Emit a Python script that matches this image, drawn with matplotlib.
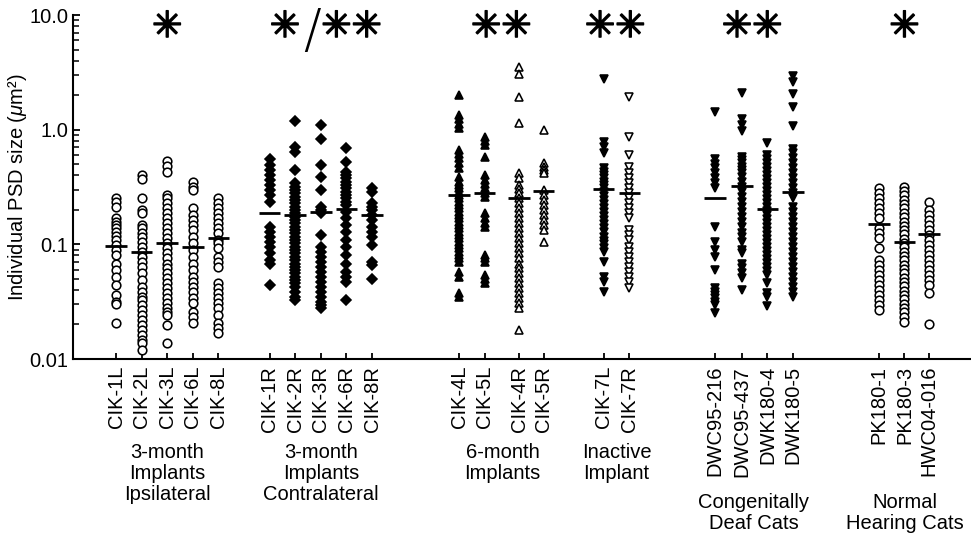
import matplotlib
matplotlib.use("Agg")
import matplotlib.pyplot as plt
import matplotlib.patheffects as pe
from matplotlib.ticker import LogLocator, FixedLocator, FixedFormatter, NullFormatter

plt.rcParams['font.family'] = ['Liberation Sans', 'DejaVu Sans']
plt.rcParams['mathtext.fontset'] = 'custom'
plt.rcParams['mathtext.rm'] = 'Liberation Sans'
plt.rcParams['mathtext.it'] = 'Liberation Sans:italic'

# ---------------- data (PSD sizes, um^2) ----------------
tick_labels = ["CIK-1L", "CIK-2L", "CIK-3L", "CIK-6L", "CIK-8L",
               "CIK-1R", "CIK-2R", "CIK-3R", "CIK-6R", "CIK-8R",
               "CIK-4L", "CIK-5L", "CIK-4R", "CIK-5R",
               "CIK-7L", "CIK-7R",
               "DWC95-216", "DWC95-437", "DWK180-4", "DWK180-5",
               "PK180-1", "PK180-3", "HWC04-016"]

cik_1l = [0.256, 0.236, 0.210, 0.168, 0.157, 0.147, 0.138, 0.129, 0.118, 0.109, 0.0986,
          0.089, 0.081, 0.068, 0.060, 0.052, 0.044, 0.036, 0.0316, 0.030, 0.0205]
cik_2l = [0.402, 0.368, 0.252, 0.199, 0.186, 0.147, 0.138, 0.125, 0.117, 0.105, 0.0953,
          0.0863, 0.078, 0.0706, 0.0638, 0.0558, 0.0489, 0.0428, 0.0387, 0.0349, 0.0327,
          0.0296, 0.0267, 0.0242, 0.0219, 0.0198, 0.0179, 0.0162, 0.0147, 0.0137, 0.0121]
cik_3l = [0.536, 0.482, 0.430, 0.269, 0.252, 0.228, 0.206, 0.186, 0.168, 0.152, 0.138,
          0.125, 0.113, 0.102, 0.0923, 0.0834, 0.0755, 0.068, 0.0617, 0.0558, 0.0504,
          0.0457, 0.0413, 0.0374, 0.0338, 0.0306, 0.0277, 0.0259, 0.0242, 0.0198, 0.0139]
cik_6l = [0.352, 0.318, 0.297, 0.206, 0.180, 0.163, 0.147, 0.133, 0.117, 0.102, 0.089,
          0.078, 0.068, 0.060, 0.052, 0.0472, 0.0428, 0.0387, 0.0338, 0.0306, 0.0259,
          0.0234, 0.0205]
cik_8l = [0.252, 0.228, 0.206, 0.186, 0.168, 0.152, 0.138, 0.125, 0.109, 0.102, 0.0923,
          0.078, 0.0706, 0.0638, 0.0457, 0.0413, 0.0374, 0.0338, 0.0306, 0.0277, 0.0242,
          0.0205, 0.0185, 0.0170]

cik_1r = [0.551, 0.491, 0.445, 0.402, 0.364, 0.329, 0.297, 0.269, 0.236, 0.143, 0.129,
          0.117, 0.105, 0.0953, 0.0834, 0.0730, 0.068, 0.0442]
cik_2r = [1.19, 0.709, 0.642, 0.445, 0.341, 0.318, 0.297, 0.278, 0.260, 0.243, 0.228,
          0.213, 0.199, 0.186, 0.174, 0.163, 0.152, 0.143, 0.133, 0.125, 0.117, 0.109,
          0.102, 0.0953, 0.089, 0.0834, 0.078, 0.073, 0.068, 0.0638, 0.060, 0.0558,
          0.052, 0.0489, 0.0457, 0.0428, 0.0387, 0.0349, 0.0327]
cik_3r = [1.097, 0.822, 0.491, 0.384, 0.297, 0.213, 0.199, 0.186, 0.121, 0.0953, 0.0863,
          0.078, 0.0706, 0.0638, 0.0577, 0.052, 0.0472, 0.0428, 0.0387, 0.0349, 0.0316,
          0.0296, 0.0277]
cik_6r = [0.687, 0.525, 0.430, 0.402, 0.376, 0.352, 0.329, 0.308, 0.288, 0.269, 0.252,
          0.236, 0.220, 0.193, 0.168, 0.147, 0.129, 0.109, 0.0953, 0.081, 0.068, 0.0577,
          0.052, 0.0472, 0.0327]
cik_8r = [0.308, 0.288, 0.228, 0.213, 0.199, 0.180, 0.163, 0.143, 0.129, 0.117, 0.0986,
          0.0706, 0.066, 0.0496]

cik_4l = [2.00, 1.34, 1.23, 1.12, 1.03, 0.664, 0.613, 0.562, 0.508, 0.460, 0.389, 0.352,
          0.329, 0.308, 0.288, 0.269, 0.252, 0.236, 0.220, 0.206, 0.193, 0.180, 0.168,
          0.157, 0.147, 0.138, 0.129, 0.121, 0.113, 0.105, 0.0986, 0.0923, 0.0863,
          0.0807, 0.0755, 0.0706, 0.0577, 0.052, 0.0374, 0.0349]
cik_5l = [0.867, 0.801, 0.734, 0.581, 0.402, 0.364, 0.336, 0.308, 0.278, 0.257, 0.186,
          0.168, 0.154, 0.141, 0.0807, 0.0755, 0.0706, 0.054, 0.0496, 0.0457]
cik_4r = [3.54, 3.05, 1.94, 1.15, 0.416, 0.376, 0.329, 0.302, 0.278, 0.252, 0.228, 0.206,
          0.186, 0.168, 0.152, 0.138, 0.125, 0.113, 0.102, 0.0923, 0.0834, 0.0755, 0.068,
          0.0617, 0.0558, 0.0504, 0.0457, 0.0413, 0.0374, 0.0338, 0.0306, 0.0277, 0.0179]
cik_5r = [0.993, 0.508, 0.475, 0.445, 0.416, 0.297, 0.269, 0.243, 0.220, 0.199, 0.180,
          0.163, 0.147, 0.133, 0.105]

cik_7l = [2.74, 0.785, 0.709, 0.629, 0.460, 0.430, 0.402, 0.376, 0.352, 0.329, 0.308,
          0.284, 0.262, 0.242, 0.223, 0.206, 0.190, 0.175, 0.162, 0.149, 0.138, 0.127,
          0.117, 0.108, 0.100, 0.0923, 0.0851, 0.0706, 0.052, 0.0472, 0.0387]
cik_7r = [1.94, 0.867, 0.601, 0.475, 0.416, 0.376, 0.341, 0.308, 0.278, 0.252, 0.228,
          0.206, 0.186, 0.168, 0.133, 0.121, 0.109, 0.0953, 0.0863, 0.078, 0.0706,
          0.0638, 0.0577, 0.052, 0.0472, 0.0413]

dwc95_216 = [1.43, 0.551, 0.501, 0.460, 0.416, 0.376, 0.341, 0.308, 0.143, 0.105, 0.089,
             0.078, 0.060, 0.0413, 0.0387, 0.0361, 0.0338, 0.0316, 0.0296, 0.025]
dwc95_437 = [2.07, 1.23, 1.10, 0.979, 0.581, 0.543, 0.508, 0.475, 0.445, 0.416, 0.389,
             0.352, 0.318, 0.288, 0.260, 0.236, 0.213, 0.193, 0.174, 0.157, 0.143, 0.125,
             0.117, 0.105, 0.089, 0.0834, 0.068, 0.0617, 0.0558, 0.0504, 0.040]
dwk180_4 = [0.769, 0.601, 0.554, 0.511, 0.472, 0.436, 0.402, 0.371, 0.342, 0.316, 0.291,
            0.269, 0.248, 0.229, 0.211, 0.195, 0.180, 0.166, 0.153, 0.142, 0.131, 0.121,
            0.111, 0.103, 0.0947, 0.0874, 0.0807, 0.0745, 0.0687, 0.0634, 0.0585, 0.0540,
            0.0463, 0.0379, 0.0349, 0.029]
dwk180_5 = [2.93, 2.62, 2.03, 1.58, 1.07, 0.673, 0.621, 0.562, 0.508, 0.460, 0.416, 0.376,
            0.341, 0.308, 0.278, 0.252, 0.213, 0.193, 0.174, 0.157, 0.143, 0.129, 0.117,
            0.105, 0.0953, 0.0863, 0.078, 0.0706, 0.0638, 0.0577, 0.052, 0.0472, 0.0428,
            0.0387, 0.0349]

pk180_1 = [0.308, 0.278, 0.252, 0.228, 0.206, 0.186, 0.168, 0.138, 0.125, 0.113, 0.0923,
           0.073, 0.066, 0.060, 0.054, 0.0489, 0.0442, 0.040, 0.0361, 0.0327, 0.0296, 0.0267]
pk180_3 = [0.318, 0.291, 0.267, 0.245, 0.224, 0.206, 0.189, 0.173, 0.158, 0.145, 0.133,
           0.122, 0.112, 0.103, 0.0941, 0.0863, 0.0791, 0.0725, 0.0664, 0.0609, 0.0558,
           0.0512, 0.0469, 0.043, 0.0394, 0.0361, 0.0331, 0.0304, 0.0278, 0.0255, 0.0234,
           0.0212]
hwc04_016 = [0.236, 0.199, 0.180, 0.163, 0.147, 0.133, 0.121, 0.109, 0.0986, 0.089,
             0.0807, 0.073, 0.066, 0.060, 0.054, 0.0489, 0.0442, 0.0374, 0.0203]

# group mean values (horizontal bars)
means = [0.097, 0.086, 0.103, 0.095, 0.114,
         0.189, 0.179, 0.193, 0.203, 0.179,
         0.269, 0.278, 0.255, 0.290,
         0.303, 0.282,
         0.255, 0.322, 0.203, 0.284,
         0.150, 0.105, 0.123]

group_labels = ["3-month\nImplants\nIpsilateral", "3-month\nImplants\nContralateral",
                "6-month\nImplants", "Inactive\nImplant",
                "Congenitally\nDeaf Cats", "Normal\nHearing Cats"]
significance = ["✳", "✳", "/", "✳✳", "✳✳", "✳✳", "✳✳", "✳"]

# ---------------- layout / style ----------------
columns = [cik_1l, cik_2l, cik_3l, cik_6l, cik_8l,
           cik_1r, cik_2r, cik_3r, cik_6r, cik_8r,
           cik_4l, cik_5l, cik_4r, cik_5r,
           cik_7l, cik_7r,
           dwc95_216, dwc95_437, dwk180_4, dwk180_5,
           pk180_1, pk180_3, hwc04_016]
xpos = [0, 1, 2, 3, 4,
        6, 7, 8, 9, 10,
        13.4, 14.4, 15.75, 16.7,
        19.05, 20.05,
        23.4, 24.45, 25.45, 26.45,
        29.8, 30.8, 31.75]
styles = ([('o', False, 6.2)] * 5 + [('D', True, 4.8)] * 5 +
          [('^', True, 6.3), ('^', True, 6.3), ('^', False, 6.3), ('^', False, 6.3)] +
          [('v', True, 6.3), ('v', False, 6.3)] +
          [('v', True, 6.3)] * 4 + [('o', False, 6.2)] * 3)
group_x = [2.0, 8.0, 15.1, 19.55, 24.9, 30.8]
group_y = [-0.245, -0.245, -0.245, -0.245, -0.39, -0.39]
sig_x = [2.0, 6.6, 7.65, 9.2, 15.05, 19.5, 24.85, 30.8]

fig = plt.figure(figsize=(9.71, 5.35), dpi=100)
ax = fig.add_axes([72.5 / 971, 1 - 359 / 535, 1 - 72.5 / 971, (359 - 15) / 535])
ax.set_yscale('log')

for x, vals, (mk, filled, ms) in zip(xpos, columns, styles):
    ax.plot([x] * len(vals), vals, linestyle='none', marker=mk, markersize=ms,
            markerfacecolor='black' if filled else 'white', markeredgecolor='black',
            markeredgewidth=1.15, zorder=3)
for x, m in zip(xpos, means):
    ax.plot([x - 0.42, x + 0.42], [m, m], color='black', lw=2.0,
            solid_capstyle='butt', zorder=4)

ax.set_xlim(-1.7, 33.4)
ax.set_ylim(0.01, 10.0)
ax.yaxis.set_major_locator(FixedLocator([0.01, 0.1, 1.0, 10.0]))
ax.yaxis.set_major_formatter(FixedFormatter(["0.01", "0.1", "1.0", "10.0"]))
ax.yaxis.set_minor_locator(LogLocator(base=10, subs=range(2, 10)))
ax.yaxis.set_minor_formatter(NullFormatter())
ax.set_xticks(xpos)
ax.set_xticklabels(tick_labels, rotation=90, fontsize=14.5)
ax.tick_params(axis='y', which='major', direction='in', length=5, width=1.3,
               labelsize=14.5, pad=3)
ax.tick_params(axis='y', which='minor', direction='in', length=4, width=1.1)
ax.tick_params(axis='x', which='major', direction='in', length=4.5, width=1.3, pad=5)
for s in ['top', 'right']:
    ax.spines[s].set_visible(False)
for s in ['left', 'bottom']:
    ax.spines[s].set_linewidth(1.5)

ax.set_ylabel(r'Individual PSD size ($\mu$m²)', fontsize=14.5)
ax.yaxis.set_label_coords(-0.048, 0.5)

for gx, gy, gl in zip(group_x, group_y, group_labels):
    ax.text(gx, gy, gl, transform=ax.get_xaxis_transform(), ha='center', va='top',
            fontsize=14.5, linespacing=1.12)

for sx, st in zip(sig_x, significance):
    if st == "/":
        ax.text(sx, 0.95, st, transform=ax.get_xaxis_transform(), ha='center',
                va='center', fontsize=38, family='DejaVu Sans', fontweight='light')
    else:
        ax.text(sx, 0.965, st, transform=ax.get_xaxis_transform(), ha='center',
                va='center', fontsize=26, family='DejaVu Sans',
                path_effects=[pe.withStroke(linewidth=1.1, foreground='black')])

fig.savefig("out.png", dpi=100)
